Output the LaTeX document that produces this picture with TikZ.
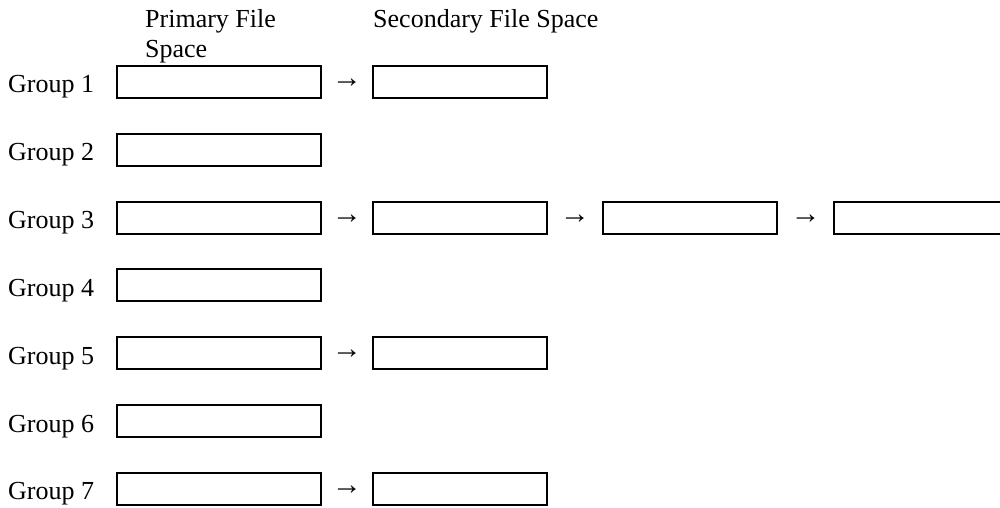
\documentclass[tikz,border=0pt]{standalone}
\usepackage{fontspec}
\setmainfont{Liberation Serif}
\usetikzlibrary{calc}
\begin{document}
\begin{tikzpicture}[x=1pt,y=-1pt,
  every node/.style={font=\fontsize{26}{30}\selectfont},
  filebox/.style={draw, line width=2pt, minimum height=32pt, inner sep=0pt, outer sep=0pt},
  primbox/.style={filebox, minimum width=204pt},
  secbox/.style={filebox, minimum width=174pt},
  grouplabel/.style={anchor=base west, inner sep=0pt},
  arrowlabel/.style={inner sep=0pt, yshift=-1.5pt, font=\fontsize{30}{34}\selectfont},
  header/.style={anchor=base west, inner sep=0pt}]
\useasboundingbox (0,0) rectangle (1000,508);
\clip (0,0) rectangle (1000,508);

% headers
\node[header] (h1a) at (145,28) {Primary File};
\node[header] (h1b) at (145,58) {Space};
\node[header] (h2) at (373,28) {Secondary File Space};

% primary boxes
\node[primbox] (p1) at (219,82) {};
\node[primbox] (p2) at (219,149.8) {};
\node[primbox] (p3) at (219,217.6) {};
\node[primbox] (p4) at (219,285.4) {};
\node[primbox] (p5) at (219,353.2) {};
\node[primbox] (p6) at (219,421) {};
\node[primbox] (p7) at (219,488.8) {};

% group labels
\node[grouplabel] (g1) at (8,93) {Group 1};
\node[grouplabel] (g2) at (8,160.8) {Group 2};
\node[grouplabel] (g3) at (8,228.6) {Group 3};
\node[grouplabel] (g4) at (8,296.4) {Group 4};
\node[grouplabel] (g5) at (8,364.2) {Group 5};
\node[grouplabel] (g6) at (8,432) {Group 6};
\node[grouplabel] (g7) at (8,499.8) {Group 7};

% secondary boxes
\node[secbox] (s1) at (459.5,82) {};
\node[secbox] (s3) at (459.5,217.6) {};
\node[secbox] (t3) at (690,217.6) {};
\node[secbox] (u3) at (921,217.6) {};
\node[secbox] (s5) at (459.5,353.2) {};
\node[secbox] (s7) at (459.5,488.8) {};

% arrows
\node[arrowlabel] (a1) at ($(p1.east)!0.5!(s1.west)$) {→};
\node[arrowlabel] (a3) at ($(p3.east)!0.5!(s3.west)$) {→};
\node[arrowlabel] (b3) at ($(s3.east)!0.5!(t3.west)$) {→};
\node[arrowlabel] (c3) at ($(t3.east)!0.5!(u3.west)$) {→};
\node[arrowlabel] (a5) at ($(p5.east)!0.5!(s5.west)$) {→};
\node[arrowlabel] (a7) at ($(p7.east)!0.5!(s7.west)$) {→};
\end{tikzpicture}
\end{document}
